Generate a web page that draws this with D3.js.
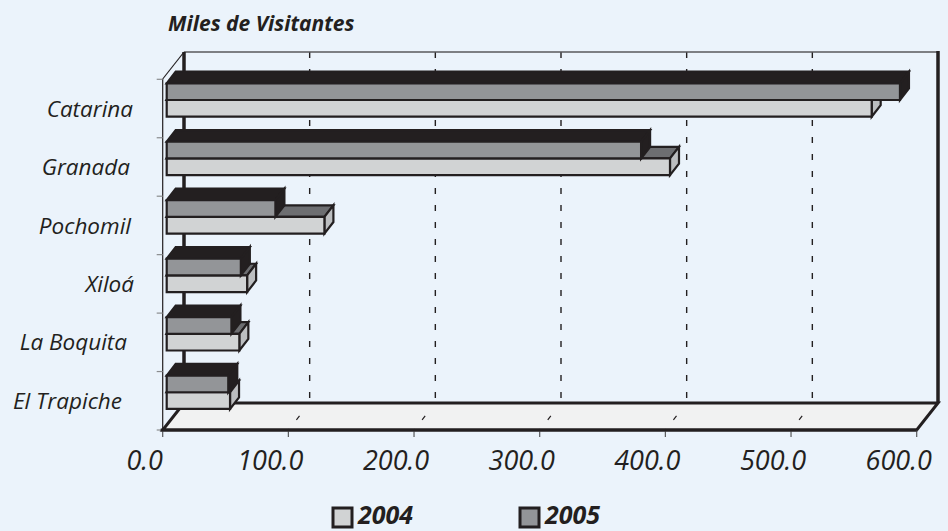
<!DOCTYPE html>
<html><head><meta charset="utf-8">
<script src="https://cdn.jsdelivr.net/npm/d3@7"></script>
<style>
html,body{margin:0;padding:0;background:#ebf3fb;}
svg{display:block;}
text{font-family:"Open Sans","Noto Sans",sans-serif;fill:#231f20;}
</style></head>
<body>
<svg id="c" width="948" height="531"></svg>
<script>
const categories = ["Catarina","Granada","Pochomil","Xiloá","La Boquita","El Trapiche"];
const values2004 = [561, 400.5, 125.5, 64, 57.8, 50.4];
const values2005 = [583.5, 377.5, 86.5, 59, 51.5, 49];
const seriesNames = ["2004","2005"];
const xTicks = [0,100,200,300,400,500,600];

const svg = d3.select("#c");
const W = 948, H = 531;
svg.append("rect").attr("width",W).attr("height",H).attr("fill","#ebf3fb");

const x = d3.scaleLinear().domain([0,600]).range([162.7,916.7]);
const y = d3.scaleBand().domain(categories).range([79.3,430]).padding(0);
const D = [21.3,-27];          // depth of the box
const F = [4,0];               // bar front-face x offset
const B = [9,-11.6];           // bar depth
const floorY = 430, topY = 79;
const ink = "#231f20";
const labelNudge = [2,-1,0,3,-4,-9];

const col = {
  "2004": {front:"#d1d3d4", top:"#6d6e71", side:"#bcbec0"},
  "2005": {front:"#939598", top:"#231f20", side:"#231f20"}
};

const g = svg.append("g");
xTicks.filter(t=>t>0 && t<600).forEach(t=>{
  g.append("line").attr("x1",x(t)+D[0]).attr("x2",x(t)+D[0])
   .attr("y1",topY+D[1]).attr("y2",floorY+D[1])
   .attr("stroke",ink).attr("stroke-width",1.4).attr("stroke-dasharray","6,11");
});
g.append("line").attr("x1",x(0)+D[0]).attr("x2",x(600)+D[0])
 .attr("y1",topY+D[1]).attr("y2",topY+D[1]).attr("stroke","#58595b").attr("stroke-width",1.5);
g.append("line").attr("x1",x(0)+D[0]).attr("x2",x(0)+D[0])
 .attr("y1",topY+D[1]).attr("y2",floorY+D[1]).attr("stroke",ink).attr("stroke-width",3.5);
g.append("line").attr("x1",x(600)+D[0]).attr("x2",x(600)+D[0])
 .attr("y1",topY+D[1]-1).attr("y2",floorY+D[1]).attr("stroke",ink).attr("stroke-width",3.5);

const fl = [[x(0),floorY],[x(600),floorY],[x(600)+D[0],floorY+D[1]],[x(0)+D[0],floorY+D[1]]];
g.append("polygon").attr("points",fl.map(p=>p.join(",")).join(" "))
 .attr("fill","#f1f2f2").attr("stroke",ink).attr("stroke-width",3).attr("stroke-linejoin","miter");
xTicks.filter(t=>t>0 && t<600).forEach(t=>{
  g.append("line").attr("x1",x(t)).attr("y1",floorY).attr("x2",x(t)+D[0]).attr("y2",floorY+D[1])
   .attr("stroke",ink).attr("stroke-width",1.2).attr("stroke-dasharray","1,12,5,20");
});

g.append("line").attr("x1",x(0)).attr("x2",x(0)).attr("y1",topY).attr("y2",floorY)
 .attr("stroke",ink).attr("stroke-width",1.2);
g.append("line").attr("x1",x(0)).attr("x2",x(0)+D[0]).attr("y1",topY).attr("y2",topY+D[1])
 .attr("stroke",ink).attr("stroke-width",1.2);
const bounds = categories.map(c=>y(c)).concat([y.range()[1]]);
bounds.forEach(b=>{
  g.append("line").attr("x1",x(0)-6).attr("x2",x(0)).attr("y1",b).attr("y2",b)
   .attr("stroke","#8a8c8e").attr("stroke-width",1.2);
});
xTicks.forEach(t=>{
  g.append("line").attr("x1",x(t)).attr("x2",x(t)).attr("y1",floorY).attr("y2",floorY+7)
   .attr("stroke","#58595b").attr("stroke-width",1.2);
});
g.append("line").attr("x1",x(0)-2).attr("x2",x(600)).attr("y1",floorY).attr("y2",floorY)
 .attr("stroke",ink).attr("stroke-width",3);

const barH = 16.7, barTop = 4;
function bar(v, y0, c){
  const x0 = x(0)+F[0], x1 = x(v)+F[0], y1 = y0+barH;
  const front = [[x0,y0],[x1,y0],[x1,y1],[x0,y1]];
  const top = [[x0,y0],[x1,y0],[x1+B[0],y0+B[1]],[x0+B[0],y0+B[1]]];
  const side = [[x1,y0],[x1+B[0],y0+B[1]],[x1+B[0],y1+B[1]],[x1,y1]];
  const bg = svg.append("g").attr("stroke",ink).attr("stroke-width",2.2).attr("stroke-linejoin","miter");
  [[top,c.top],[side,c.side],[front,c.front]].forEach(([p,f])=>{
    bg.append("polygon").attr("points",p.map(q=>q.join(",")).join(" ")).attr("fill",f);
  });
}
categories.forEach((cat,i)=>{
  const y0 = y(cat)+barTop;
  bar(values2004[i], y0+barH, col["2004"]);
  bar(values2005[i], y0, col["2005"]);
});

svg.append("g").selectAll("text").data(categories).join("text")
  .attr("x",(d,i)=>131+labelNudge[i]).attr("y",d=>y(d)+y.bandwidth()/2).attr("dy","0.36em")
  .attr("text-anchor","end").attr("font-style","italic").attr("font-size",22.5)
  .text(d=>d);

svg.append("g").selectAll("text").data(xTicks).join("text")
  .attr("x",d=>x(d)-18).attr("y",470).attr("text-anchor","middle")
  .attr("font-style","italic").attr("font-size",27)
  .text(d=>d3.format(".1f")(d));

svg.append("text").attr("x",168).attr("y",31).attr("font-style","italic").attr("font-weight",700)
  .attr("font-size",21).text("Miles de Visitantes");

const leg = svg.append("g");
const legX = [333,520];
seriesNames.forEach((s,i)=>{
  leg.append("rect").attr("x",legX[i]).attr("y",508).attr("width",19).attr("height",19)
   .attr("fill",col[s].front).attr("stroke",ink).attr("stroke-width",3);
  leg.append("text").attr("x",legX[i]+25).attr("y",524).attr("font-style","italic")
   .attr("font-weight",700).attr("font-size",25).text(s);
});
</script>
</body></html>
